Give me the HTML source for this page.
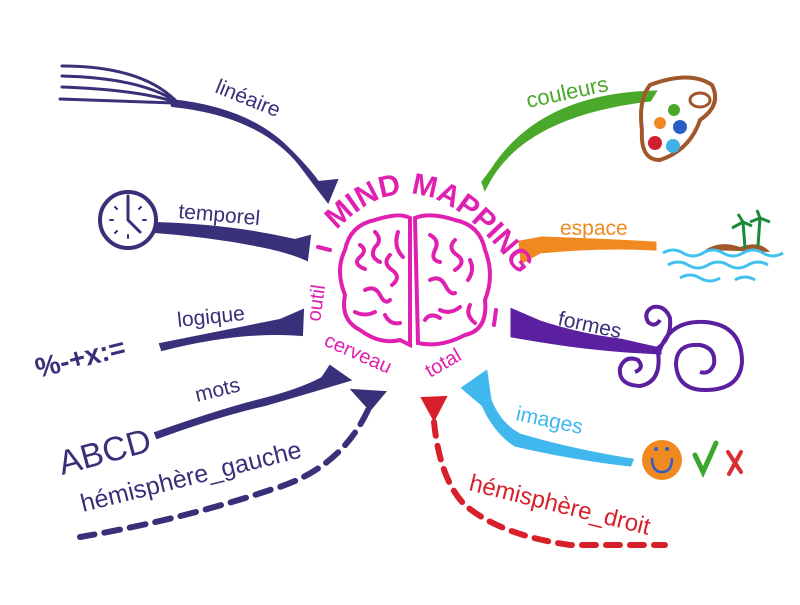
<!DOCTYPE html>
<html><head><meta charset="utf-8">
<style>
html,body{margin:0;padding:0;background:#fff;}
svg{display:block;}
text{font-family:"Liberation Sans",sans-serif;}
</style></head>
<body>
<svg width="800" height="605" viewBox="0 0 800 605" xmlns="http://www.w3.org/2000/svg">
<rect width="800" height="605" fill="#fff"/>
<defs>
<path id="arcTop" d="M335,232 Q420,140 515,270"/>
</defs>
<g fill="#39307a" stroke="#39307a" stroke-linecap="round">
<g fill="none" stroke-width="3">
<path d="M62,66 Q140,66 175,100"/><path d="M62,76 Q140,78 175,101"/><path d="M62,87 Q140,90 175,102"/><path d="M60,99 Q140,102 175,103"/>
</g>
<path d="M170,100 Q250,108 290,150 Q310,170 318,182 L337,180 L328,202 Q315,185 300,165 Q260,115 172,106 Z" stroke-width="2"/>
<circle cx="128" cy="220" r="28" fill="#fff" stroke-width="4"/>
<path d="M128,220 L128,196 M128,220 L140,232" stroke-width="3" fill="none"/>
<g stroke-width="2"><path d="M128,200 v0 M146,220 h-3 M110,220 h3 M128,238 v-3 M141,207 l-2,2 M115,207 l2,2 M115,233 l2,-2"/></g>
<path d="M155,223 Q230,225 295,240 L310,236 L307,260 Q290,252 260,246 Q210,236 155,232 Z" stroke-width="2"/>
<path d="M160,344 Q230,330 280,320 L303,310 L302,335 Q240,330 162,350 Z" stroke-width="2"/>
<text x="38" y="378" font-size="28" font-weight="bold" fill="#39307a" stroke="none" transform="rotate(-14 38 378)">%-+x:=</text>
<path d="M155,433 Q220,410 260,400 Q300,390 322,378 L330,366 L350,380 Q300,395 265,405 Q220,415 157,438 Z" stroke-width="2"/>
<text x="62" y="475" font-size="34" fill="#39307a" stroke="none" transform="rotate(-15 62 475)">ABCD</text>
<path d="M352,390 L385,392 L370,410 Z" stroke-width="2"/>
<path d="M368,410 Q340,470 270,490 Q180,520 80,537" fill="none" stroke-width="6" stroke-dasharray="16,10"/>
<text x="83" y="512" font-size="25" fill="#39307a" stroke="none" transform="rotate(-14 83 512)">hémisphère_gauche</text>
</g>
<g fill="#39307a" font-size="21">
<text x="214" y="92" transform="rotate(22 214 92)">linéaire</text>
<text x="178" y="218" transform="rotate(5 178 218)">temporel</text>
<text x="178" y="327" transform="rotate(-6 178 327)">logique</text>
<text x="197" y="402" transform="rotate(-14 197 402)">mots</text>
</g>
<path d="M485,188 Q520,115 650,100 L655,92 Q540,95 492,170 L483,182 Z" fill="#4aa82a" stroke="#4aa82a" stroke-width="3"/>
<text x="528" y="108" font-size="22" fill="#4aa82a" transform="rotate(-12 528 108)">couleurs</text>
<path d="M650,85 Q690,70 712,85 Q722,105 700,120 Q690,150 660,160 Q640,160 642,130 Q638,100 650,85 Z" fill="none" stroke="#a0582a" stroke-width="4"/>
<ellipse cx="700" cy="100" rx="10" ry="7" fill="none" stroke="#a0582a" stroke-width="3"/>
<circle cx="674" cy="110" r="6" fill="#4aa82a"/><circle cx="660" cy="123" r="6" fill="#f08a20"/><circle cx="680" cy="127" r="7" fill="#2a5fc8"/><circle cx="655" cy="143" r="7" fill="#d02030"/><circle cx="673" cy="146" r="7" fill="#40b0e8"/>
<path d="M520,242 L542,238 Q600,240 655,243 L655,249 Q600,246 540,252 L522,262 Z" fill="#f08a20" stroke="#f08a20" stroke-width="3"/>
<text x="560" y="235" font-size="21" fill="#f08a20">espace</text>
<path d="M705,250 Q720,240 740,247 Q760,240 770,252 Z" fill="#a0582a"/>
<g stroke="#1a8a3a" stroke-width="3" fill="none"><path d="M745,248 L743,222 M743,222 L732,228 M743,222 L752,226 M743,222 L738,214"/><path d="M758,246 L760,218 M760,218 L750,222 M760,218 L770,222 M760,218 L757,210"/></g>
<g stroke="#40c0ee" stroke-width="3" fill="none"><path d="M663,253 q10,-6 20,0 t20,0 t20,0 t20,0 t20,0 t20,0"/><path d="M668,265 q10,-6 20,0 t20,0 t20,0 t20,0 t20,0"/><path d="M680,278 q10,-6 20,0 t20,0 M735,280 q10,-6 20,0"/></g>
<path d="M512,310 L540,322 Q580,335 620,340 L660,349 L660,353 Q600,350 555,343 Q535,340 512,336 Z" fill="#5a20a0" stroke="#5a20a0" stroke-width="3"/>
<g stroke="#5a20a0" stroke-width="4" fill="none">
<path d="M655,350 Q672,340 670,318 Q665,305 653,307 Q643,312 648,322 Q655,328 660,320"/>
<path d="M660,350 Q670,320 705,322 Q742,325 742,362 Q740,390 705,390 Q678,390 676,365 Q676,343 700,345 Q716,348 714,364 Q710,375 700,372"/>
<path d="M658,352 Q662,382 640,386 Q618,385 620,368 Q625,355 638,360 Q645,368 635,372"/>
</g>
<text x="557" y="325" font-size="21" fill="#39307a" transform="rotate(12 557 325)">formes</text>
<path d="M463,388 L486,372 L490,400 Q500,425 520,435 Q570,450 632,460 L630,465 Q570,458 515,445 Q495,432 483,405 Z" fill="#40b8ee" stroke="#40b8ee" stroke-width="3"/>
<text x="515" y="420" font-size="21" fill="#40b8ee" transform="rotate(12 515 420)">images</text>
<circle cx="662" cy="460" r="20" fill="#f08a20"/>
<path d="M652,458 Q652,472 662,472 Q672,472 672,458" stroke="#2a5fc8" stroke-width="2.5" fill="none"/><circle cx="656" cy="449" r="2" fill="#2a5fc8"/><circle cx="667" cy="449" r="2" fill="#2a5fc8"/>
<path d="M695,455 L703,472 L716,443" stroke="#3aa830" stroke-width="5" fill="none" stroke-linecap="round"/>
<path d="M728,452 L741,472 M741,452 L729,474" stroke="#d83030" stroke-width="4" fill="none" stroke-linecap="round"/>
<path d="M422,398 L446,397 L434,420 Z" fill="#d8202a" stroke="#d8202a" stroke-width="2"/>
<path d="M434,422 Q440,480 465,505 Q500,535 570,545 L665,545" fill="none" stroke="#d8202a" stroke-width="6" stroke-dasharray="14,10" stroke-linecap="round"/>
<text x="468" y="490" font-size="24" fill="#d8202a" transform="rotate(14 468 490)">hémisphère_droit</text>
<g fill="none" stroke="#e020b0" stroke-width="4" stroke-linecap="round">
<path d="M410,218 Q400,212 375,220 Q350,225 345,250 Q335,270 345,295 Q340,320 360,330 Q380,345 400,340 L410,345 Z"/>
<path d="M415,218 Q430,212 455,220 Q480,225 485,250 Q495,275 485,300 Q488,330 465,335 Q440,348 418,343 Z"/>
<path d="M360,245 q8,5 0,12 t5,12 M375,232 q8,8 0,15 q-6,10 5,15 M390,255 q-8,8 2,15 t0,15 M365,290 q10,-5 15,5 t10,5 M355,312 q10,5 20,0 M385,315 q5,10 15,8 M398,232 q-5,15 5,25"/>
<path d="M430,235 q10,5 5,15 t5,12 M455,240 q-8,8 2,15 t-2,15 M470,260 q5,10 -2,20 M430,280 q10,-5 15,5 t10,8 M440,310 q10,5 20,-3 M470,305 q-5,10 5,18 M425,320 q5,-8 15,-2"/>
<path d="M318,247 L330,250 M496,310 L494,325"/>
</g>
<g fill="#e020b0" font-size="30" font-weight="bold">
<text><textPath href="#arcTop" startOffset="1%">MIND MAPPING</textPath></text>
</g>
<g fill="#e020b0" font-size="20">
<text x="320" y="322" transform="rotate(-82 320 322)">outil</text>
<text x="323" y="345" transform="rotate(24 323 345)">cerveau</text>
<text x="430" y="378" transform="rotate(-30 430 378)">total</text>
</g>
</svg>
</body></html>
